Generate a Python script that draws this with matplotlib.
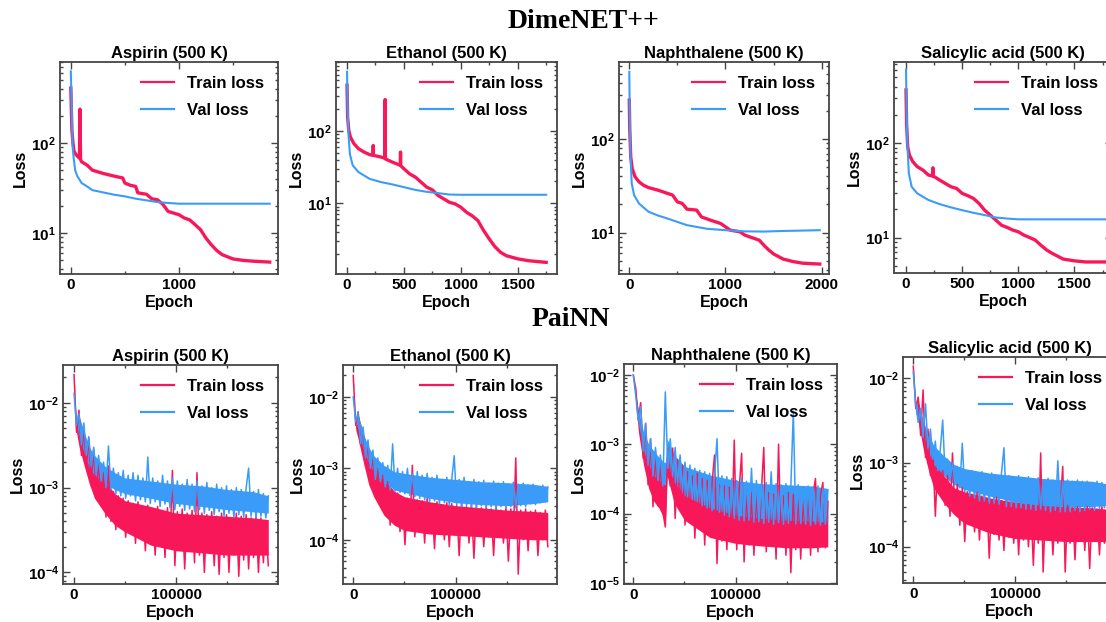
import numpy as np
import matplotlib
matplotlib.use("Agg")
import matplotlib.pyplot as plt
from matplotlib.ticker import MultipleLocator, LogLocator, NullFormatter

plt.rcParams['font.family'] = ['Liberation Sans', 'DejaVu Sans']
plt.rcParams['font.weight'] = 'bold'
plt.rcParams['axes.labelweight'] = 'bold'
plt.rcParams['axes.titleweight'] = 'bold'
plt.rcParams['mathtext.fontset'] = 'custom'
plt.rcParams['mathtext.rm'] = 'Liberation Sans:bold'
plt.rcParams['mathtext.bf'] = 'Liberation Sans:bold'
plt.rcParams['mathtext.default'] = 'bf'

molecules = ["Aspirin (500 K)", "Ethanol (500 K)", "Naphthalene (500 K)", "Salicylic acid (500 K)"]
RED = '#f8185a'
BLUE = '#3a9cf8'

# ---- DimeNET++ (epoch, loss) ----
asp_dn_train_ep = [0, 10, 20, 30, 50, 80, 85, 90, 100, 150, 200, 300, 400, 480, 500, 550, 600, 620, 700, 750,
                   800, 850, 900, 1000, 1050, 1100, 1150, 1200, 1250, 1300, 1350, 1400, 1500, 1600, 1700, 1840]
asp_dn_train = [410, 140, 100, 81, 74, 68, 239, 66, 62, 57, 50, 46, 43, 41, 36, 34, 33, 28, 27, 24,
                23.5, 21, 17.4, 16, 14.7, 14, 12.4, 10.9, 8.8, 7.4, 6.4, 5.75, 5.15, 4.95, 4.85, 4.75]
asp_dn_val_ep = [0, 10, 15, 25, 40, 60, 100, 150, 200, 300, 400, 500, 600, 700, 800, 900, 1000, 1840]
asp_dn_val = [630, 215, 100, 71, 50, 43, 36, 33, 30, 28.3, 26.7, 25.6, 24.1, 23.1, 22.1, 21.6, 21.2, 21.2]

eth_dn_train_ep = [0, 5, 15, 30, 60, 100, 150, 200, 228, 230, 232, 300, 333, 335, 337, 400, 468, 470, 472, 500,
                   550, 600, 650, 700, 750, 800, 850, 900, 950, 1000, 1050, 1100, 1150, 1200, 1250, 1300,
                   1350, 1400, 1500, 1600, 1750]
eth_dn_train = [430, 156, 102, 82, 67, 57, 51, 47, 46, 63, 46, 43.5, 42, 272, 41, 37, 33.5, 51, 33, 30,
                25.5, 23, 19.6, 16.7, 15.3, 12.8, 11.5, 10.3, 9.8, 8.8, 7.5, 6.7, 5.75, 4.2, 3.2, 2.5,
                2.09, 1.88, 1.7, 1.6, 1.52]
eth_dn_val_ep = [0, 5, 12, 25, 50, 100, 200, 300, 400, 500, 600, 700, 800, 900, 1000, 1750]
eth_dn_val = [660, 215, 92, 48, 33.4, 27, 21.7, 19.6, 18.2, 16.7, 15.3, 14.4, 13.8, 13.2, 13.1, 13.1]

nap_dn_train_ep = [0, 5, 15, 30, 60, 100, 150, 200, 300, 400, 450, 500, 550, 600, 700, 750, 850, 950, 1000,
                   1050, 1150, 1200, 1250, 1350, 1400, 1450, 1500, 1600, 1700, 1800, 1980]
nap_dn_train = [262, 125, 64.6, 48.5, 39.5, 35, 32, 30.3, 28.4, 26.2, 25.2, 21.3, 20.5, 17.8, 17.4, 14.7,
                13.5, 12.5, 11.5, 10.6, 10.2, 9.4, 9.0, 8.3, 7.3, 6.5, 5.9, 5.2, 4.9, 4.7, 4.6]
nap_dn_val_ep = [0, 5, 12, 25, 50, 100, 200, 300, 400, 500, 600, 700, 800, 1000, 1200, 1400, 1600, 1800, 1980]
nap_dn_val = [525, 188, 70, 33.6, 25.2, 20.5, 16.7, 15.2, 14.1, 13.0, 12.0, 11.5, 11.0, 10.6, 10.3, 10.25,
              10.4, 10.5, 10.6]

sal_dn_train_ep = [0, 5, 15, 30, 60, 100, 150, 200, 238, 240, 242, 300, 350, 400, 450, 500, 550, 600, 650,
                   700, 750, 800, 850, 900, 950, 1000, 1050, 1100, 1150, 1200, 1250, 1300, 1400, 1500, 1600, 1850]
sal_dn_train = [369, 163, 92, 75, 64, 56.5, 52, 46, 45, 55, 45, 40.7, 37.5, 34.6, 33.2, 29.4, 27.8, 26, 23,
                19.5, 17.3, 15.3, 13.5, 12.8, 12, 11.5, 10.6, 10, 9.4, 8.3, 7.4, 6.8, 5.9, 5.65, 5.5, 5.5]
sal_dn_val_ep = [0, 5, 12, 25, 50, 100, 200, 300, 400, 500, 600, 700, 800, 900, 1000, 1850]
sal_dn_val = [605, 226, 100, 48, 34.6, 29.4, 25, 22.6, 20.9, 19.5, 18.3, 17.3, 16.3, 15.9, 15.6, 15.6]

# ---- PaiNN: loss (x1e-4) sampled every ~2400 epochs from 0 to 190000 ----
pn_last_epoch = 190000
asp_pn_train = [216, 45, 82, 24, 50, 17, 38, 12, 28, 9, 20, 6.5, 15, 4.5, 18, 4.0, 9, 3.2, 8, 3.8,
                7.5, 2.6, 7, 3.0, 6.5, 2.2, 6.8, 2.6, 6, 1.8, 6.2, 2.4, 5.5, 1.6, 6, 2.2, 5.4, 1.5, 5.8, 2.0,
                16, 1.2, 5.2, 1.9, 5.6, 1.1, 5.0, 1.8, 5.4, 1.3, 15, 1.6, 5.0, 1.0, 4.8, 1.7, 5.2, 1.2, 4.6, 0.95,
                5.0, 1.5, 4.8, 1.0, 4.4, 1.6, 5.0, 0.9, 4.6, 1.4, 4.8, 1.1, 4.4, 1.5, 4.6, 1.0, 4.4, 1.3, 4.0, 1.2]
asp_pn_val = [130, 55, 75, 32, 58, 24, 40, 18, 30, 14, 24, 12, 20, 10, 31, 9.5, 17, 8.5, 15, 8,
              16, 7.5, 14, 8, 15, 7, 14, 7.2, 13, 6.8, 23, 6.5, 13, 6.8, 12, 6, 14, 6.4, 12, 5.8,
              13, 5.5, 12, 6, 11, 5.4, 12.5, 5.6, 11, 5.2, 12, 5.5, 10.5, 5, 11.5, 5.4, 10, 4.8, 11, 5.2,
              10, 4.6, 10.5, 5, 9.5, 4.5, 10, 4.8, 9.5, 4.5, 10, 17, 4.6, 9, 4.4, 9.5, 4.6, 8.5, 4.4, 8]

eth_pn_train = [200, 40, 62, 21, 35, 11, 22, 8, 15, 4.6, 10, 3.5, 8, 2.4, 6.5, 1.6, 5, 2.0, 4.5, 1.3,
                4, 0.85, 3.8, 1.5, 11, 1.1, 3.6, 1.6, 3.5, 0.9, 3.8, 1.3, 3.2, 0.75, 3.4, 1.4, 3.0, 1.0, 3.3, 0.8,
                3.2, 1.3, 3.0, 0.6, 3.2, 1.2, 2.9, 0.9, 3.1, 0.55, 3.0, 1.2, 2.8, 0.8, 3.0, 1.1, 2.7, 0.6, 2.9, 1.2,
                2.6, 0.9, 2.8, 0.5, 2.7, 1.1, 14, 0.33, 2.6, 1.0, 2.7, 0.7, 2.5, 1.2, 2.6, 0.6, 2.4, 1.0, 2.6, 0.8]
eth_pn_val = [100, 45, 60, 22, 38, 14, 25, 10, 18, 7, 14, 6.5, 12, 5.5, 11, 5, 22, 4.8, 10, 4.6,
              9, 4.4, 10, 4.2, 8.5, 4, 9, 3.8, 8, 3.6, 8.5, 3.4, 7.5, 3.5, 8, 3.2, 7, 3.3, 7.5, 3.0,
              7, 15, 3.1, 7, 2.9, 7.5, 3.0, 6.5, 2.9, 7, 2.8, 6.5, 3.0, 6.8, 2.8, 6.2, 2.9, 6.6, 2.7, 6.2,
              2.9, 6.5, 2.8, 6, 2.9, 6.4, 2.8, 6, 3.0, 6.2, 2.9, 5.8, 3.2, 6, 3.1, 5.6, 3.3, 5.8, 3.4, 5.5]

nap_pn_train = [100, 64, 23, 40, 6.3, 20, 2.6, 12, 1.25, 8, 1.3, 6, 1.05, 0.64, 9, 2.5, 8.8, 0.85, 6, 1.2,
                5, 0.68, 4, 1.0, 3.5, 0.44, 3.8, 0.7, 3.2, 0.35, 3.0, 0.5, 2.8, 7, 0.19, 2.6, 0.4, 2.5, 0.3, 2.4,
                0.45, 11.5, 0.3, 2.2, 7.4, 0.2, 2.2, 0.35, 2.0, 0.25, 2.1, 0.4, 2.0, 9, 0.28, 2.0, 0.35, 1.9, 0.22, 10,
                0.38, 1.8, 0.25, 2.0, 0.14, 1.9, 0.3, 2.0, 0.22, 1.8, 0.35, 2.2, 0.25, 1.9, 3.2, 0.28, 1.8, 2.8, 0.32, 1.5]
nap_pn_val = [100, 50, 22, 35, 8, 20, 5, 12, 3.5, 9, 3, 7, 2.5, 57, 4.5, 12, 3.5, 9, 2.8, 7,
              2.2, 5.5, 1.8, 5, 1.6, 4.5, 1.5, 4.2, 1.3, 4, 1.2, 3.8, 1.1, 3.6, 12, 1.05, 3.5, 0.95, 3.4, 0.9,
              3.2, 0.85, 3.0, 0.8, 3.2, 0.78, 2.9, 0.8, 4.5, 0.75, 3.0, 0.76, 2.7, 0.72, 2.8, 0.75, 4.0, 0.7, 2.7, 0.74,
              2.6, 0.7, 2.7, 0.72, 2.5, 30, 0.7, 2.6, 0.72, 2.4, 0.7, 2.5, 0.68, 2.4, 0.7, 2.5, 0.68, 2.3, 0.7, 2.2]

sal_pn_train = [140, 44, 60, 21, 73, 11.5, 25, 7, 14, 2.3, 10, 4.6, 8, 3.1, 7, 2.3, 13, 2.6, 5.5, 1.8,
                5, 1.15, 4.5, 2.0, 4.2, 1.5, 4.4, 1.2, 4, 1.8, 3.8, 0.73, 3.6, 1.4, 3.9, 1.2, 3.5, 0.9, 3.7, 1.3,
                3.4, 1.1, 3.5, 0.8, 3.3, 1.2, 3.4, 1.0, 3.2, 0.6, 3.3, 1.1, 13, 0.5, 3.2, 1.2, 3.0, 0.8, 3.2, 1.1,
                3.0, 9, 0.5, 3.1, 1.1, 2.9, 0.7, 3.0, 1.2, 2.8, 0.9, 3.0, 0.55, 2.9, 1.2, 2.8, 0.8, 3.0, 1.1, 2.8]
sal_pn_val = [120, 50, 30, 44, 20, 50, 15, 25, 11, 18, 8, 14, 32, 7, 11, 6, 10, 5.5, 9, 5,
              17, 4.5, 8, 4, 8, 3.8, 7.5, 3.5, 7.8, 3.5, 7.2, 3.3, 7.5, 3.3, 7, 3.2, 7.5, 15, 3.0, 7,
              3.0, 6.8, 2.9, 7, 2.9, 6.5, 2.8, 6.8, 2.8, 6.4, 2.7, 6.6, 2.8, 6.2, 2.7, 6.5, 2.6, 6.2, 2.7, 10.5,
              2.6, 6, 2.6, 6.2, 2.6, 6, 2.7, 6.2, 2.6, 6, 2.7, 6, 2.8, 5.8, 2.7, 6, 2.8, 5.8, 2.9, 5.6]

# dense core of each noisy PaiNN band (x1e-4)
core_ep = [0, 2400, 5000, 10000, 15000, 20000, 30000, 40000, 50000, 75000, 100000, 125000, 150000, 175000, 190000]
asp_core_train_lo = [200, 45, 30, 18, 11, 7.5, 5, 3.6, 3.0, 2.1, 1.8, 1.7, 1.6, 1.6, 1.6]
asp_core_train_hi = [216, 55, 60, 40, 28, 20, 12, 8.5, 7, 6, 5, 4.8, 4.6, 4.4, 4.2]
asp_core_val_lo = [120, 55, 40, 25, 17, 14, 11, 9.5, 8.5, 7.5, 6.5, 6, 5.5, 5.2, 5]
asp_core_val_hi = [130, 60, 70, 45, 30, 24, 18, 15, 13, 12, 11, 10.5, 9.5, 9, 8]

eth_core_train_lo = [180, 35, 25, 12, 6, 4.0, 2.2, 1.6, 1.35, 1.2, 1.15, 1.1, 1.05, 1.0, 1.0]
eth_core_train_hi = [200, 40, 55, 30, 18, 11, 7, 4.8, 4, 3.4, 3.0, 2.8, 2.6, 2.5, 2.4]
eth_core_val_lo = [95, 45, 35, 18, 12, 9, 6.5, 5, 4.6, 3.8, 3.3, 3.1, 3.0, 3.2, 3.4]
eth_core_val_hi = [100, 50, 55, 30, 20, 15, 11, 9, 8.5, 7.5, 7, 6.5, 6.3, 6, 5.6]

nap_core_ep = [0, 2400, 5000, 10000, 15000, 20000, 25000, 30000, 31500, 33000, 40000, 50000, 75000, 100000,
               125000, 150000, 175000, 190000]
nap_core_train_lo = [95, 40, 15, 5, 2.3, 1.5, 1.2, 0.85, 0.85, 3.5, 1.4, 0.8, 0.45, 0.37, 0.34, 0.32, 0.32, 0.33]
nap_core_train_hi = [100, 55, 30, 12, 7, 5.5, 4.5, 3.5, 3.5, 8, 5, 3.5, 2.4, 1.9, 1.8, 1.7, 1.7, 1.5]
nap_core_val_lo = [95, 45, 20, 8, 5, 3.5, 3, 2.6, 2.6, 5, 2.8, 1.8, 1.2, 0.95, 0.85, 0.8, 0.78, 0.75]
nap_core_val_hi = [100, 50, 30, 15, 10, 8, 6.5, 5.5, 5.5, 12, 7, 4.8, 3.6, 3.0, 2.7, 2.6, 2.5, 2.3]

sal_core_train_lo = [130, 40, 30, 14, 8, 5.0, 3.3, 2.4, 1.9, 1.45, 1.25, 1.2, 1.15, 1.15, 1.15]
sal_core_train_hi = [140, 44, 55, 28, 18, 11, 7, 5, 4.5, 3.8, 3.4, 3.2, 3.0, 2.9, 2.8]
sal_core_val_lo = [115, 45, 35, 20, 13, 9.5, 7, 5.5, 4.8, 4.0, 3.4, 3.1, 3.0, 3.0, 3.1]
sal_core_val_hi = [120, 50, 50, 30, 22, 16, 12, 9.5, 8.5, 7.5, 7, 6.5, 6.2, 6, 5.6]

dn_series = [
    (asp_dn_train_ep, asp_dn_train, asp_dn_val_ep, asp_dn_val),
    (eth_dn_train_ep, eth_dn_train, eth_dn_val_ep, eth_dn_val),
    (nap_dn_train_ep, nap_dn_train, nap_dn_val_ep, nap_dn_val),
    (sal_dn_train_ep, sal_dn_train, sal_dn_val_ep, sal_dn_val),
]
pn_series = [
    (asp_pn_train, asp_pn_val, core_ep, asp_core_train_lo, asp_core_train_hi, asp_core_val_lo, asp_core_val_hi),
    (eth_pn_train, eth_pn_val, core_ep, eth_core_train_lo, eth_core_train_hi, eth_core_val_lo, eth_core_val_hi),
    (nap_pn_train, nap_pn_val, nap_core_ep, nap_core_train_lo, nap_core_train_hi, nap_core_val_lo, nap_core_val_hi),
    (sal_pn_train, sal_pn_val, core_ep, sal_core_train_lo, sal_core_train_hi, sal_core_val_lo, sal_core_val_hi),
]

# layout in pixels: (left, top, right, bottom)
W, H = 1106, 622
dn_boxes = [(60, 62, 278, 274), (336, 62, 557, 274), (619, 62, 829, 274), (894, 62, 1112, 273)]
pn_boxes = [(63, 365, 278, 584), (343, 365, 557, 584), (624, 364, 837, 584), (903, 357, 1116, 583)]
dn_xlim = [(-100, 1917), (-97, 1845), (-107, 2076), (-107, 1834)]
dn_ylim = [(3.5, 800), (1.05, 900), (3.6, 670), (4.2, 730)]
dn_xmajor = [1000, 500, 1000, 500]
pn_xlim = [(-10800, 199500), (-10000, 199000), (-9100, 199000), (-10100, 199000)]
pn_ylim = [(7.3e-5, 0.028), (2.4e-5, 0.028), (9.6e-6, 0.0144), (3.7e-5, 0.018)]


def box(l, t, r, b):
    return [l / W, 1 - b / H, (r - l) / W, (b - t) / H]


def style(ax, title, xmajor):
    ax.set_yscale('log')
    ax.set_title(title, fontsize=12, pad=3)
    ax.set_xlabel('Epoch', fontsize=11.5, labelpad=2)
    ax.set_ylabel('Loss', fontsize=11.5, labelpad=2)
    ax.xaxis.set_major_locator(MultipleLocator(xmajor))
    ax.xaxis.set_minor_locator(MultipleLocator(xmajor / 2))
    ax.yaxis.set_minor_locator(LogLocator(base=10, subs=np.arange(2, 10)))
    ax.yaxis.set_minor_formatter(NullFormatter())
    ax.tick_params(which='both', direction='in', top=True, right=True, labelsize=11, width=1,
                   color='#444444', pad=3)
    ax.tick_params(which='major', length=5)
    ax.tick_params(which='minor', length=2.5)
    for s in ax.spines.values():
        s.set_linewidth(1.3)
        s.set_color('#444444')
    leg = ax.legend(loc='upper right', frameon=False, fontsize=12, handlelength=2.0,
                    handletextpad=0.75, labelspacing=0.7, borderaxespad=0.45)
    for h in leg.get_lines():
        h.set_linewidth(1.6)


fig = plt.figure(figsize=(11.06, 6.22), dpi=100)

for i in range(4):
    tr_ep, tr, va_ep, va = dn_series[i]
    ax = fig.add_axes(box(*dn_boxes[i]))
    ax.plot(tr_ep, tr, color=RED, lw=2.4, label='Train loss')
    ax.plot(va_ep, va, color=BLUE, lw=1.5, label='Val loss')
    ax.set_xlim(*dn_xlim[i])
    ax.set_ylim(*dn_ylim[i])
    style(ax, molecules[i], dn_xmajor[i])

for i in range(4):
    tr, va, cep, tr_lo, tr_hi, va_lo, va_hi = pn_series[i]
    ax = fig.add_axes(box(*pn_boxes[i]))
    ax.fill_between(cep, np.array(tr_lo) * 1e-4, np.array(tr_hi) * 1e-4, color=RED, lw=0)
    ax.plot(np.linspace(0, pn_last_epoch, len(tr)), np.array(tr) * 1e-4, color=RED, lw=1.1, label='Train loss')
    ax.fill_between(cep, np.array(va_lo) * 1e-4, np.array(va_hi) * 1e-4, color=BLUE, lw=0)
    ax.plot(np.linspace(0, pn_last_epoch, len(va)), np.array(va) * 1e-4, color=BLUE, lw=1.1, label='Val loss')
    ax.set_xlim(*pn_xlim[i])
    ax.set_ylim(*pn_ylim[i])
    style(ax, molecules[i], 100000)

fig.text(583 / W, 1 - 22 / H, 'DimeNET++', fontfamily='Liberation Serif', fontweight='bold',
         fontsize=20, ha='center', va='center')
fig.text(571 / W, 1 - 320 / H, 'PaiNN', fontfamily='Liberation Serif', fontweight='bold',
         fontsize=20, ha='center', va='center')

fig.savefig('out.png', dpi=100)
